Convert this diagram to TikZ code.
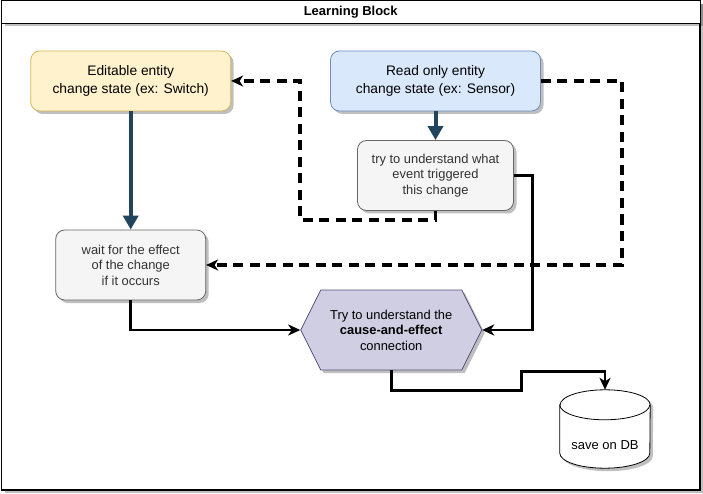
\documentclass[tikz,border=0pt]{standalone}
\usepackage{fontspec}
\setmainfont{Liberation Sans}
\usetikzlibrary{arrows.meta,positioning,shapes.symbols,shadows}
\definecolor{editfill}{HTML}{FFF2CC}
\definecolor{editline}{HTML}{D6B656}
\definecolor{readfill}{HTML}{DAE8FC}
\definecolor{readline}{HTML}{6C8EBF}
\definecolor{stepfill}{HTML}{F5F5F5}
\definecolor{stepline}{HTML}{666666}
\definecolor{steptext}{HTML}{333333}
\definecolor{hexfill}{HTML}{D0CEE2}
\definecolor{hexline}{HTML}{56517E}
\definecolor{darkflow}{HTML}{23445D}
\pgfdeclarelayer{back}
\pgfdeclarelayer{mid}
\pgfsetlayers{back,mid,main}
\begin{document}
\begin{tikzpicture}[x=1pt, y=-1pt]
\tikzstyle{shade}=[drop shadow={shadow xshift=3pt,shadow yshift=-3pt,opacity=0.25,fill=black}]
\tikzstyle{frame}=[rectangle,draw,line width=1.2pt,fill=white,shade]
\tikzstyle{entity}=[rectangle,rounded corners=9pt,thick,minimum height=60pt,align=center,shade,
  font=\fontsize{13.8}{17.3}\selectfont]
\tikzstyle{edit}=[entity,draw=editline,fill=editfill,minimum width=200pt]
\tikzstyle{read}=[entity,draw=readline,fill=readfill,minimum width=210pt]
\tikzstyle{stepbox}=[rectangle,rounded corners=9pt,thick,draw=stepline,fill=stepfill,text=steptext,
  minimum height=70pt,align=center,shade,font=\fontsize{12.9}{15.5}\selectfont]
\tikzstyle{hex}=[signal,signal to=west and east,signal pointer angle=126.87,thick,draw=hexline,fill=hexfill,
  minimum width=181pt,minimum height=80pt,inner sep=0pt,align=center,shade,font=\fontsize{12.9}{15.5}\selectfont]
\tikzstyle{dbtext}=[rectangle,inner sep=0pt,minimum width=90pt,text height=59pt,text depth=19pt,
  font=\fontsize{13}{15.5}\selectfont]
\tikzstyle{darkarrow}=[draw=darkflow,line width=4pt,{Triangle[length=14pt,width=15pt]}-]
\tikzstyle{flow}=[draw=black,line width=2.6pt,-{Stealth[length=12pt,width=11pt,inset=3.5pt]}]
\tikzstyle{dashflow}=[flow,line width=3.4pt,dash pattern=on 10pt off 6.5pt]
\useasboundingbox (0,0) rectangle (703,494);

% frame and title
\begin{pgfonlayer}{back}
\node[frame,minimum width=698.5pt,minimum height=489pt] (block) at (350.75,245.5) {};
\node[frame,line width=1pt,minimum width=698.5pt,minimum height=22.3pt,
  font=\fontsize{13}{15}\selectfont\bfseries] (title) at (350.75,12.15) {Learning Block};
\end{pgfonlayer}

\node[edit] (edit) at (130.7,81) {Editable entity\\change state (ex: Switch)};
\node[read] (read) at (435.5,81) {Read only entity\\change state (ex: Sensor)};

\node[stepbox,minimum width=156pt] (try) [below of=read, node distance=94.5pt]
  {try to understand what\\event triggered\\this change}
  edge [darkarrow] (read);

\node[stepbox,minimum width=150pt] (wait) [below of=edit, node distance=184pt]
  {wait for the effect\\of the change\\if it occurs}
  edge [darkarrow] (edit);

\node[hex] (cause) at (391.2,330) {Try to understand the\\\textbf{cause-and-effect}\\connection};

% database cylinder round the label
\node[dbtext] (db) at (605,429) {save on DB};
\begin{pgfonlayer}{mid}
\draw[thick,fill=white,shade] ([yshift=-15pt]db.north west) -- ([yshift=15pt]db.south west)
  arc[start angle=180,end angle=360,x radius=45pt,y radius=15pt]
  -- ([yshift=-15pt]db.north east)
  arc[start angle=0,end angle=180,x radius=45pt,y radius=15pt] -- cycle;
\draw[thick] ([yshift=-15pt]db.north west) arc[start angle=180,end angle=360,x radius=45pt,y radius=15pt];
\end{pgfonlayer}

% connectors
\draw[dashflow] (read.east) -- ++(81,0) |- (wait.east);
\draw[dashflow] (try.south) |- (300,220) |- (edit.east);
\draw[flow] (try.east) -- ++(18.5,0) |- (cause.east);
\draw[flow] (wait.south) |- (cause.west);
\draw[flow] (cause.south) -- ++(0,20) -- ++(130,0) -- ++(0,-19) -| (db.north);
\end{tikzpicture}
\end{document}
